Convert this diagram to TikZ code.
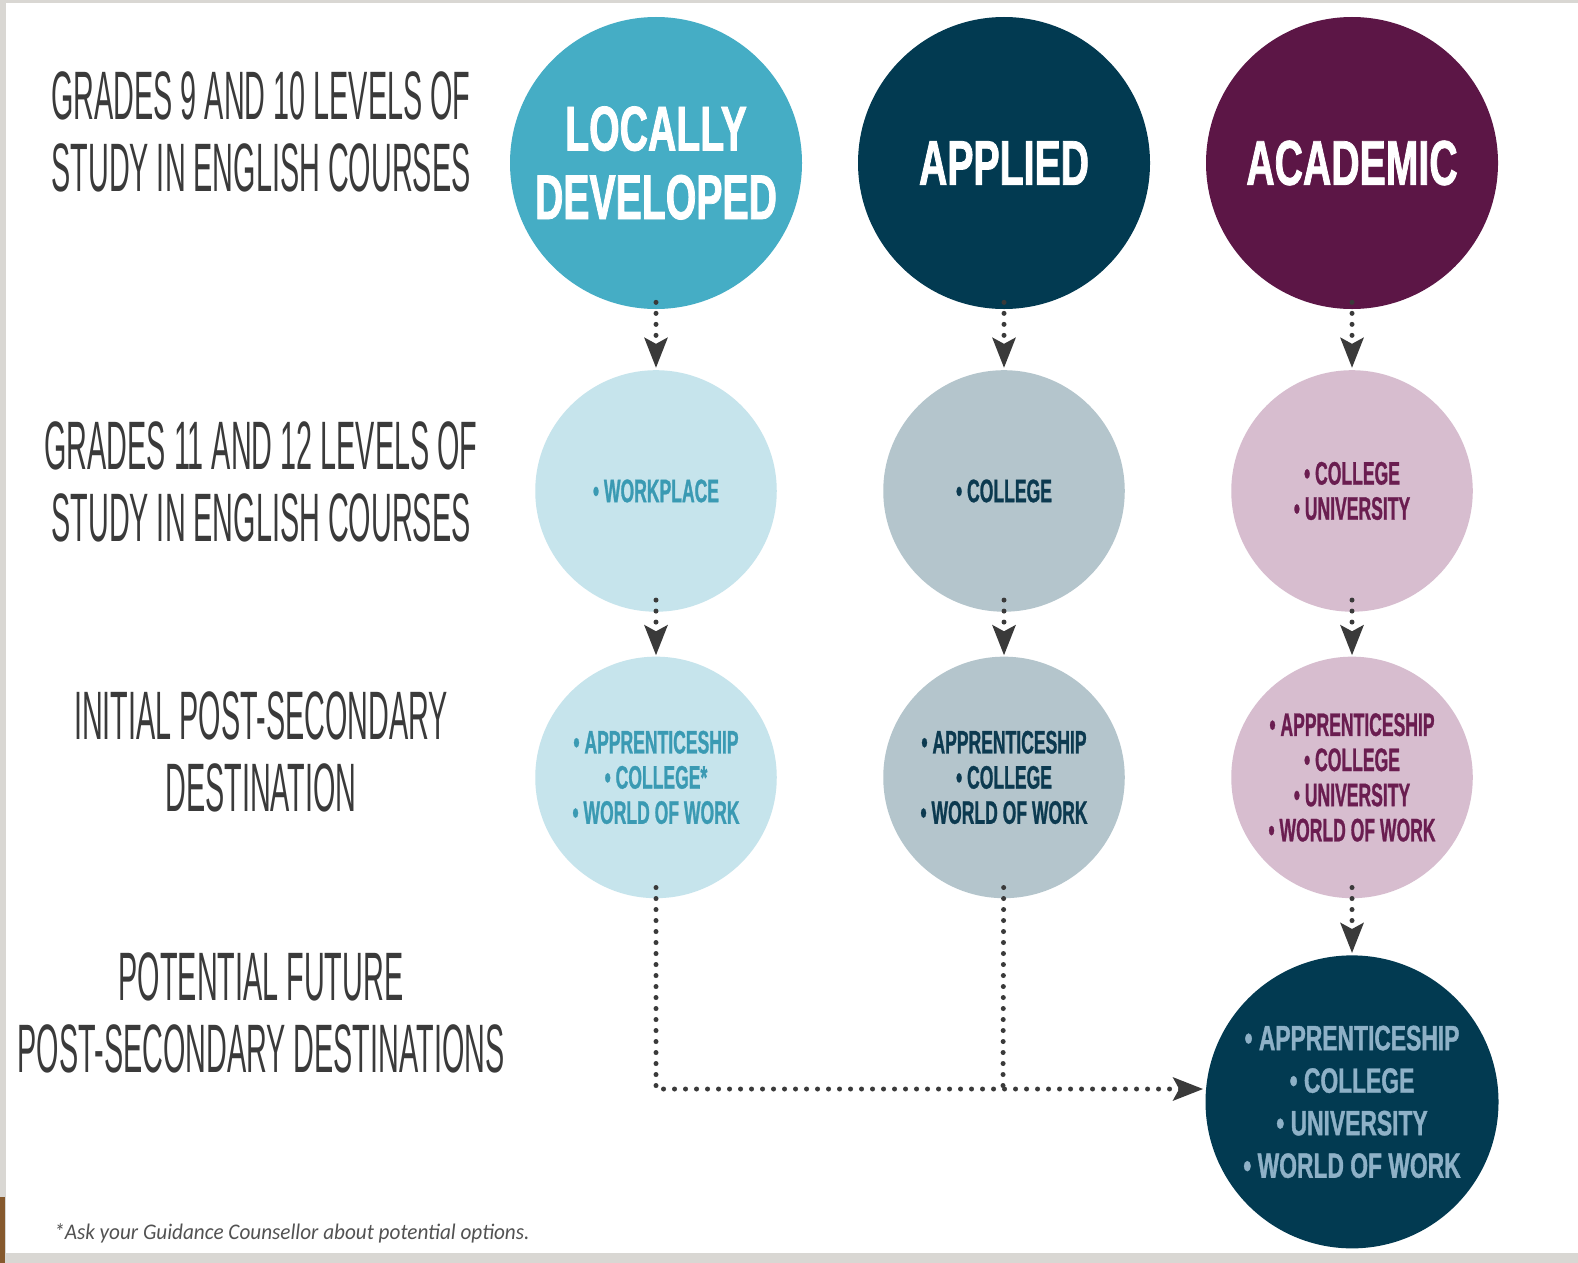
\documentclass[tikz,border=0pt]{standalone}
\usepackage{fontspec}
\usetikzlibrary{positioning,arrows.meta}

\newfontfamily\handfont[FakeStretch=0.42]{Liberation Sans}
\newfontfamily\titlefont[FakeStretch=0.62,FakeBold=1.2]{Liberation Sans}
\newfontfamily\itemfont[FakeStretch=0.54,FakeBold=0.8]{Liberation Sans}
\newfontfamily\futfont[FakeStretch=0.65,FakeBold=1]{Liberation Sans}
\newfontfamily\notefont[FakeStretch=0.95]{Carlito}

\definecolor{tealtop}{HTML}{45ADC5}
\definecolor{navytop}{HTML}{023A51}
\definecolor{plumtop}{HTML}{5C1646}
\definecolor{tealsoft}{HTML}{C6E4EC}
\definecolor{navysoft}{HTML}{B4C5CC}
\definecolor{plumsoft}{HTML}{D7BDCF}
\definecolor{tealtext}{HTML}{3A9AB3}
\definecolor{navytext}{HTML}{0C3A50}
\definecolor{plumtext}{HTML}{6A1D50}
\definecolor{futtext}{HTML}{8EB1C7}
\definecolor{labelgray}{HTML}{3A3A3A}
\definecolor{arrowgray}{HTML}{3A3A3A}
\definecolor{framegray}{HTML}{D9D7D3}

\tikzset{
  bigcirc/.style={circle, minimum size=58.4mm, inner sep=0pt, align=center, text=white,
    font=\titlefont\bfseries\fontsize{36}{39}\selectfont},
  smallcirc/.style={circle, minimum size=48.3mm, inner sep=0pt, align=center,
    font=\itemfont\bfseries\fontsize{18.5}{20}\selectfont},
  rowlabel/.style={align=center, text=labelgray, font=\handfont\fontsize{39}{41}\selectfont},
  flow/.style={draw=arrowgray, line width=1mm, line cap=round, dash pattern=on 0pt off 2.2mm,
    -{Stealth[width=4.6mm, length=6mm, inset=1.2mm]}},
  flowline/.style={draw=arrowgray, line width=1mm, line cap=round, dash pattern=on 0pt off 2.2mm}
}

\begin{document}
\begin{tikzpicture}[x=0.2mm, y=-0.2mm, node distance=69.6mm]
  \useasboundingbox (0,0) rectangle (1578,1263);
  \fill[framegray] (0,0) rectangle (1578,1263);
  \fill[white] (6,3) rectangle (1578,1253);
  \fill[brown!70!black] (0,1197) rectangle (5,1263);

  % top row
  \node[bigcirc, fill=tealtop] (ld) at (656,163) {LOCALLY\\DEVELOPED};
  \node[bigcirc, fill=navytop, right of=ld] (ap) {APPLIED};
  \node[bigcirc, fill=plumtop, right of=ap] (ac) {ACADEMIC};

  % grades 11 and 12
  \node[smallcirc, fill=tealsoft, text=tealtext, below=12.1mm of ld] (ld2) {• WORKPLACE};
  \node[smallcirc, fill=navysoft, text=navytext, below=12.1mm of ap] (ap2) {• COLLEGE};
  \node[smallcirc, fill=plumsoft, text=plumtext, below=12.1mm of ac] (ac2) {• COLLEGE\\• UNIVERSITY};

  % initial destination
  \node[smallcirc, fill=tealsoft, text=tealtext, below=8.85mm of ld2] (ld3)
    {• APPRENTICESHIP\\• COLLEGE*\\• WORLD OF WORK};
  \node[smallcirc, fill=navysoft, text=navytext, below=8.85mm of ap2] (ap3)
    {• APPRENTICESHIP\\• COLLEGE\\• WORLD OF WORK};
  \node[smallcirc, fill=plumsoft, text=plumtext, below=8.85mm of ac2] (ac3)
    {• APPRENTICESHIP\\• COLLEGE\\• UNIVERSITY\\• WORLD OF WORK};

  % future
  \node[circle, minimum size=58.6mm, inner sep=0pt, align=center, fill=navytop, text=futtext,
    font=\futfont\bfseries\fontsize{20}{24.2}\selectfont, below=11.3mm of ac3] (fut)
    {• APPRENTICESHIP\\• COLLEGE\\• UNIVERSITY\\• WORLD OF WORK};

  % row labels
  \node[rowlabel] (lab1) at (261,132) {GRADES 9 AND 10 LEVELS OF\\STUDY IN ENGLISH COURSES};
  \node[rowlabel] (lab2) at (261,482) {GRADES 11 AND 12 LEVELS OF\\STUDY IN ENGLISH COURSES};
  \node[rowlabel] (lab3) at (261,752) {INITIAL POST-SECONDARY\\DESTINATION};
  \node[rowlabel] (lab4) at (261,1013) {POTENTIAL FUTURE\\POST-SECONDARY DESTINATIONS};

  \node[anchor=base west, text=black!68, font=\notefont\itshape\fontsize{12.7}{15}\selectfont]
    (note) at (48,1239) {*Ask your Guidance Counsellor about potential options.};

  % arrows
  \draw[flow, shorten <=-1.4mm, shorten >=0.4mm] (ld) -- (ld2);
  \draw[flow, shorten <=-1.4mm, shorten >=0.4mm] (ap) -- (ap2);
  \draw[flow, shorten <=-1.4mm, shorten >=0.4mm] (ac) -- (ac2);
  \draw[flow, shorten <=-2.4mm, shorten >=0.2mm] (ld2) -- (ld3);
  \draw[flow, shorten <=-2.4mm, shorten >=0.2mm] (ap2) -- (ap3);
  \draw[flow, shorten <=-2.4mm, shorten >=0.2mm] (ac2) -- (ac3);
  \draw[flow, shorten <=-2.2mm, shorten >=0.4mm] (ac3) -- (fut);

  \coordinate (jn) at (1003,1089);
  \draw[flow, shorten <=-2.2mm, shorten >=0.4mm] (ld3) |- (jn -| fut.west);
  \draw[flowline, shorten <=-2.2mm] (ap3) -- (jn);
\end{tikzpicture}
\end{document}
